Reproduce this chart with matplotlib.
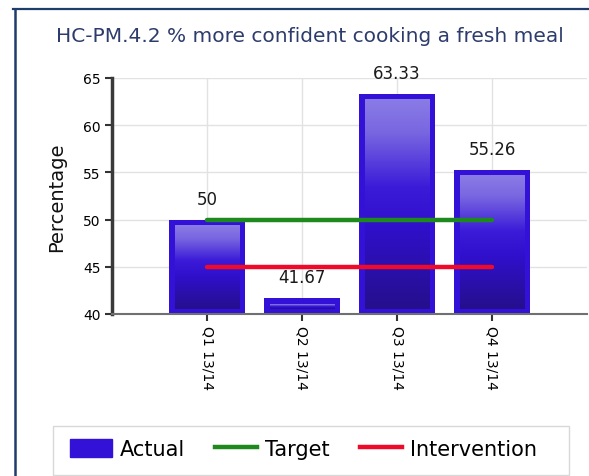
import numpy as np
import matplotlib
matplotlib.use("Agg")
import matplotlib.pyplot as plt
from matplotlib.colors import LinearSegmentedColormap
from matplotlib.patches import Rectangle
from matplotlib.lines import Line2D

# Quarterly results
categories = ["Q1 13/14", "Q2 13/14", "Q3 13/14", "Q4 13/14"]
actual = [50, 41.67, 63.33, 55.26]
target = [50, 50, 50, 50]
intervention = [45, 45, 45, 45]
value_labels = ["50", "41.67", "63.33", "55.26"]

title = "HC-PM.4.2 % more confident cooking a fresh meal"

W, H = 589, 477
fig = plt.figure(figsize=(W / 100, H / 100), dpi=100)
fig.patch.set_facecolor("white")

# outer panel border (top and left edges)
fig.add_artist(Line2D([13 / W, 1.0], [1 - 10 / H, 1 - 10 / H], color="#1f3d6b", lw=1.6))
fig.add_artist(Line2D([15 / W, 15 / W], [0, 1 - 10 / H], color="#1f3d6b", lw=1.8))

fig.text(310 / W, 1 - 37 / H, title, ha="center", va="center",
         fontsize=14.5, color="#2d3c6c")

ax = fig.add_axes([112 / W, 1 - 315 / H, (587 - 112) / W, (315 - 79) / H])
x = np.arange(1, len(categories) + 1)
bar_w = 0.81
bar_color = "#3311d6"

ax.bar(x, [a - 40 for a in actual], bottom=40, width=bar_w, color=bar_color,
       edgecolor=bar_color, linewidth=0, zorder=2)

# glossy vertical shading inside each bar (light at the top, dark at the base)
cmap = LinearSegmentedColormap.from_list(
    "gloss", [(0.0, "#8a7ce6"), (0.16, "#7866e0"), (0.42, "#3b1bd8"),
              (0.6, "#3010cc"), (1.0, "#250f8c")])
grad = np.linspace(0, 1, 256).reshape(-1, 1)
dx, dtop, dbot = 0.065, 0.65, 0.5
for xi, v in zip(x, actual):
    y0, y1 = 40 + dbot, v - dtop
    if y1 <= y0:
        continue
    ax.imshow(grad, cmap=cmap, aspect="auto", interpolation="bilinear",
              origin="upper",
              extent=(xi - bar_w / 2 + dx, xi + bar_w / 2 - dx, y0, y1),
              zorder=2.5)

ax.plot(x, target, color="#1e8a1e", lw=3.2, solid_capstyle="round", zorder=3)
ax.plot(x, intervention, color="#f00a2a", lw=3.2, solid_capstyle="round", zorder=3)

for xi, v, lab in zip(x, actual, value_labels):
    ax.annotate(lab, (xi, v), xytext=(0, 12), textcoords="offset pixels",
                ha="center", va="bottom", fontsize=12, color="#1a1a1a", zorder=4)

ax.set_xlim(0, 5)
ax.set_ylim(40, 65)
ax.set_yticks(np.arange(40, 66, 5))
ax.set_xticks(x)
ax.set_xticklabels(categories, rotation=-90, fontsize=10, va="top", ha="center")
ax.tick_params(axis="y", labelsize=10, length=5, width=1.5, color="#333333", pad=3)
ax.tick_params(axis="x", length=5, width=1.5, color="#333333", pad=3)
ax.set_ylabel("Percentage", fontsize=14, labelpad=12, color="#111111")
ax.grid(True, color="#e2e2e2", lw=1, zorder=0)
ax.set_axisbelow(True)
for s in ["top", "right"]:
    ax.spines[s].set_visible(False)
ax.spines["left"].set_color("#3a3a3a")
ax.spines["left"].set_linewidth(2.5)
ax.spines["bottom"].set_color("#707070")
ax.spines["bottom"].set_linewidth(1.5)

# legend panel
fig.add_artist(Rectangle((53 / W, 1 - 476 / H), (569 - 53) / W, (476 - 427) / H,
                         facecolor="white", edgecolor="#d8d8d8", lw=1))
handles = [Rectangle((0, 0), 1, 1, facecolor=bar_color, edgecolor=bar_color),
           Line2D([], [], color="#1e8a1e", lw=3.2),
           Line2D([], [], color="#f00a2a", lw=3.2)]
fig.legend(handles, ["Actual", "Target", "Intervention"], ncol=3,
           loc="center", bbox_to_anchor=(303.5 / W, 1 - 450 / H), frameon=False,
           fontsize=15, handlelength=2.0, handleheight=0.95, handletextpad=0.4,
           columnspacing=1.45, borderpad=0)

fig.savefig("out.png", dpi=100)
